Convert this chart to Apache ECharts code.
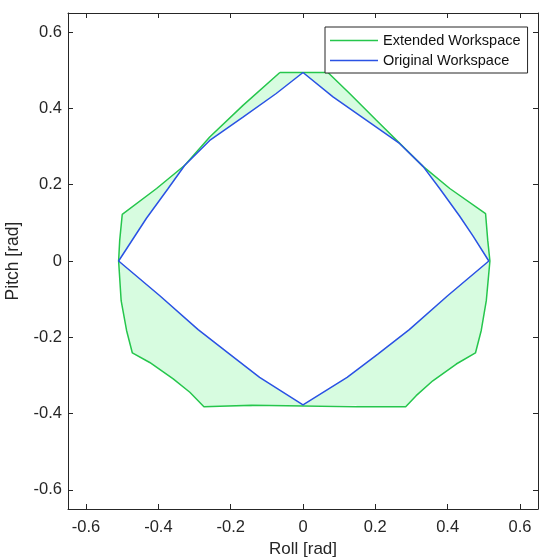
<!DOCTYPE html>
<html>
<head>
<meta charset="utf-8">
<script src="https://cdn.jsdelivr.net/npm/echarts@6/dist/echarts.min.js"></script>
<style>html,body{margin:0;padding:0;background:#fff}#c{width:539px;height:557px}</style>
</head>
<body>
<div id="c"></div>
<script>
// Extended workspace outline (roll, pitch) in rad
var extendedWorkspace = [
  [-0.064,0.494],[0.069,0.494],[0.129,0.439],[0.203,0.369],[0.332,0.248],[0.406,0.190],
  [0.505,0.124],[0.511,0.054],[0.517,0],[0.507,-0.104],[0.493,-0.182],[0.477,-0.241],
  [0.424,-0.270],[0.359,-0.314],[0.313,-0.353],[0.284,-0.382],[0.148,-0.382],[0.148,-0.378],
  [-0.142,-0.378],[-0.142,-0.382],[-0.274,-0.382],[-0.313,-0.344],[-0.359,-0.309],[-0.424,-0.266],
  [-0.472,-0.241],[-0.488,-0.182],[-0.503,-0.104],[-0.510,0],[-0.507,0.054],[-0.500,0.122],
  [-0.405,0.190],[-0.327,0.251],[-0.258,0.325],[-0.166,0.408],[-0.064,0.494]
];
// Original workspace outline (roll, pitch) in rad
var originalWorkspace = [
  [0,0.494],[0.083,0.430],[0.175,0.369],[0.267,0.308],[0.332,0.248],[0.378,0.190],
  [0.433,0.118],[0.470,0.066],[0.514,0],[0.400,-0.091],[0.294,-0.180],[0.207,-0.244],
  [0.122,-0.305],[0,-0.377],[-0.120,-0.305],[-0.203,-0.244],[-0.290,-0.180],[-0.396,-0.091],
  [-0.510,0],[-0.433,0.112],[-0.373,0.190],[-0.327,0.251],[-0.258,0.316],[-0.166,0.377],
  [-0.074,0.439],[0,0.494]
];
var xTicks = [-0.6,-0.4,-0.2,0,0.2,0.4,0.6];
var yTicks = [-0.6,-0.4,-0.2,0,0.2,0.4,0.6];
var seriesNames = ['Extended Workspace','Original Workspace'];

var FONT = "'Liberation Sans', Arial, Helvetica, sans-serif";
var AX = '#262626';
var GREEN = '#25c64c';
var BLUE = '#2a52e4';
var FILL = '#d7fce0';

function fmt(v){ return v === 0 ? '0' : String(Math.round(v*10)/10); }

function axisCommon(pos, ticks, showLabel){
  return {
    type: 'value', position: pos, min: -0.65, max: 0.65,
    axisLine: {show: true, onZero: false, lineStyle: {color: AX, width: 1}},
    axisTick: {show: true, inside: true, length: 5, customValues: ticks, lineStyle: {color: AX, width: 1}},
    axisLabel: {show: showLabel, customValues: ticks, formatter: fmt, color: AX, fontSize: 16.5, fontFamily: FONT},
    splitLine: {show: false}
  };
}

function polygonSeries(name, pts, color){
  return {
    type: 'custom', name: name, silent: true,
    data: pts,
    renderItem: function(params, api){
      if (params.dataIndex !== 0) return null;
      var p = pts.map(function(d){ return api.coord(d); });
      return {type: 'polygon', shape: {points: p}, style: {fill: color, stroke: null}};
    },
    z: 1
  };
}

var xa = axisCommon('bottom', xTicks, true);
xa.name = 'Roll [rad]'; xa.nameLocation = 'middle'; xa.nameGap = 29;
xa.nameTextStyle = {fontSize: 17, color: AX, fontFamily: FONT};
xa.axisLabel.margin = 10;
var xt = axisCommon('top', xTicks, false);
var ya = axisCommon('left', yTicks, true);
ya.name = 'Pitch [rad]'; ya.nameLocation = 'middle'; ya.nameGap = 41;
ya.nameTextStyle = {fontSize: 17.5, color: AX, fontFamily: FONT};
ya.axisLabel.margin = 6;
var yr = axisCommon('right', yTicks, false);

var chart = echarts.init(document.getElementById('c'), null, {renderer: 'canvas'});
chart.setOption({
  animation: false,
  backgroundColor: '#fff',
  grid: {left: 68, top: 13, right: 1, bottom: 48, containLabel: false, outerBoundsMode: 'none'},
  xAxis: [xa, xt],
  yAxis: [ya, yr],
  legend: {
    data: seriesNames, orient: 'vertical', left: 325, top: 27,
    padding: [6, 7, 5, 5], itemGap: 5, itemWidth: 48, itemHeight: 1.5, icon: 'rect',
    borderColor: AX, borderWidth: 1, backgroundColor: '#fff',
    textStyle: {fontSize: 14.5, color: '#111', fontFamily: FONT, lineHeight: 14},
    selectedMode: false
  },
  series: [
    polygonSeries('fillExt', extendedWorkspace, FILL),
    polygonSeries('fillOrig', originalWorkspace, '#ffffff'),
    {type: 'line', name: seriesNames[0], data: extendedWorkspace, symbol: 'none', showSymbol: false,
     lineStyle: {color: GREEN, width: 1.5}, itemStyle: {color: GREEN}, z: 3},
    {type: 'line', name: seriesNames[1], data: originalWorkspace, symbol: 'none', showSymbol: false,
     lineStyle: {color: BLUE, width: 1.5}, itemStyle: {color: BLUE}, z: 4}
  ]
});
</script>
</body>
</html>
